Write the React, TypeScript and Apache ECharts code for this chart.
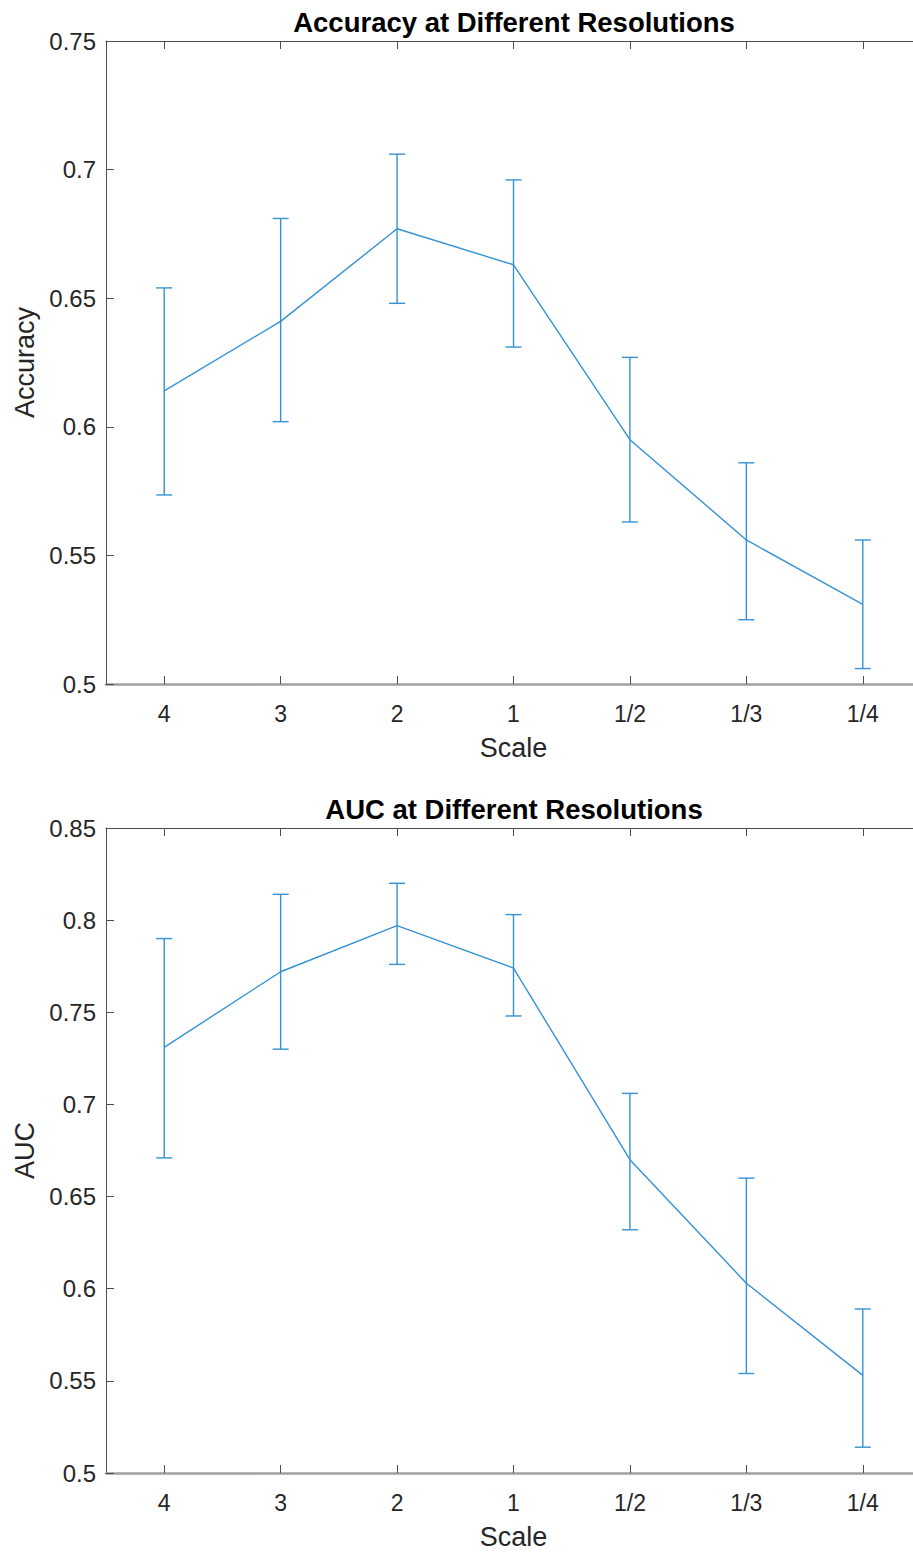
import React, { useEffect, useRef } from "react";
import * as echarts from "echarts";

const scales = ["4", "3", "2", "1", "1/2", "1/3", "1/4"];

const accMean = [0.614, 0.641, 0.677, 0.663, 0.595, 0.556, 0.531];
const accUpper = [0.654, 0.681, 0.706, 0.696, 0.627, 0.586, 0.556];
const accLower = [0.5735, 0.602, 0.648, 0.631, 0.563, 0.525, 0.506];

const aucMean = [0.731, 0.772, 0.797, 0.774, 0.67, 0.603, 0.553];
const aucUpper = [0.79, 0.814, 0.82, 0.803, 0.706, 0.66, 0.589];
const aucLower = [0.671, 0.73, 0.776, 0.748, 0.632, 0.554, 0.514];

const accRange = { min: 0.5, max: 0.75, interval: 0.05 };
const aucRange = { min: 0.5, max: 0.85, interval: 0.05 };

const titles = ["Accuracy at Different Resolutions", "AUC at Different Resolutions"];
const yNames = ["Accuracy", "AUC"];
const xName = "Scale";

const LINE = "#3592d4";
const FONT = "Liberation Sans, Arial, Helvetica, sans-serif";
const TXT = "#262626";
const AX = "#4d4d4d";

export default function App() {
  const ref = useRef<HTMLDivElement>(null);
  useEffect(() => {
    if (!ref.current) return;
    const chart = echarts.init(ref.current, null, { renderer: "svg" });

    const grids = [
      { left: 106, top: 41, width: 815, height: 643 },
      { left: 106, top: 828, width: 815, height: 645 },
    ];
    const ranges = [accRange, aucRange];

    const xAxes: any[] = [];
    const yAxes: any[] = [];
    grids.forEach((_, gi) => {
      xAxes.push({
        gridIndex: gi,
        type: "category",
        data: scales,
        boundaryGap: true,
        position: "bottom",
        name: xName,
        nameLocation: "middle",
        nameGap: 50,
        nameTextStyle: { fontFamily: FONT, fontSize: 27, color: TXT },
        axisLine: { show: true, lineStyle: { color: "#a0a0a0", width: 2.5 } },
        axisTick: { show: true, inside: true, length: 8, alignWithLabel: true, lineStyle: { color: AX, width: 1 } },
        axisLabel: { show: true, margin: 18, fontFamily: FONT, fontSize: 23, color: TXT },
        splitLine: { show: false },
      });
      xAxes.push({
        gridIndex: gi,
        type: "category",
        data: scales,
        boundaryGap: true,
        position: "top",
        axisLine: { show: true, lineStyle: { color: AX, width: 1 } },
        axisTick: { show: true, inside: true, length: 8, alignWithLabel: true, lineStyle: { color: AX, width: 1 } },
        axisLabel: { show: false },
        splitLine: { show: false },
      });
      const r = ranges[gi];
      yAxes.push({
        gridIndex: gi,
        type: "value",
        min: r.min,
        max: r.max,
        interval: r.interval,
        position: "left",
        name: yNames[gi],
        nameLocation: "middle",
        nameRotate: 90,
        nameGap: 66,
        nameTextStyle: { fontFamily: FONT, fontSize: 27, color: TXT },
        axisLine: { show: true, lineStyle: { color: AX, width: 1 } },
        axisTick: { show: true, inside: true, length: 8, lineStyle: { color: AX, width: 1 } },
        axisLabel: { show: true, margin: 10, fontFamily: FONT, fontSize: 24, color: TXT },
        splitLine: { show: false },
      });
      yAxes.push({
        gridIndex: gi,
        type: "value",
        min: r.min,
        max: r.max,
        interval: r.interval,
        position: "right",
        axisLine: { show: true, lineStyle: { color: AX, width: 1 } },
        axisTick: { show: true, inside: true, length: 8, lineStyle: { color: AX, width: 1 } },
        axisLabel: { show: false },
        splitLine: { show: false },
      });
    });

    const errRender = (params: any, api: any) => {
      const x = api.value(0);
      const lo = api.coord([x, api.value(1)]);
      const hi = api.coord([x, api.value(2)]);
      const w = 8;
      const style = { stroke: LINE, lineWidth: 1.4, fill: "none" };
      return {
        type: "group",
        children: [
          { type: "line", shape: { x1: hi[0], y1: hi[1], x2: lo[0], y2: lo[1] }, style },
          { type: "line", shape: { x1: hi[0] - w, y1: hi[1], x2: hi[0] + w, y2: hi[1] }, style },
          { type: "line", shape: { x1: lo[0] - w, y1: lo[1], x2: lo[0] + w, y2: lo[1] }, style },
        ],
      };
    };

    const sets = [
      { mean: accMean, lower: accLower, upper: accUpper },
      { mean: aucMean, lower: aucLower, upper: aucUpper },
    ];

    const series: any[] = [];
    sets.forEach((s, gi) => {
      series.push({
        type: "line",
        xAxisIndex: gi * 2,
        yAxisIndex: gi * 2,
        data: s.mean,
        symbol: "none",
        lineStyle: { color: LINE, width: 1.4 },
        z: 3,
      });
      series.push({
        type: "custom",
        xAxisIndex: gi * 2,
        yAxisIndex: gi * 2,
        renderItem: errRender,
        encode: { x: 0, y: [1, 2] },
        data: s.mean.map((_, i) => [i, s.lower[i], s.upper[i]]),
        z: 4,
      });
    });

    chart.setOption({
      animation: false,
      backgroundColor: "#ffffff",
      title: [
        {
          text: titles[0],
          left: 509,
          top: 3,
          textAlign: "center",
          textStyle: { fontFamily: FONT, fontSize: 27.5, fontWeight: "bold", color: "#000" },
        },
        {
          text: titles[1],
          left: 509,
          top: 790,
          textAlign: "center",
          textStyle: { fontFamily: FONT, fontSize: 27.5, fontWeight: "bold", color: "#000" },
        },
      ],
      grid: grids,
      xAxis: xAxes,
      yAxis: yAxes,
      series,
    });

    return () => chart.dispose();
  }, []);

  return (
    <div
      style={{ position: "absolute", left: 0, top: 0, width: 913, height: 1554, overflow: "hidden", background: "#fff" }}
    >
      <div ref={ref} style={{ width: 940, height: 1554 }} />
    </div>
  );
}
